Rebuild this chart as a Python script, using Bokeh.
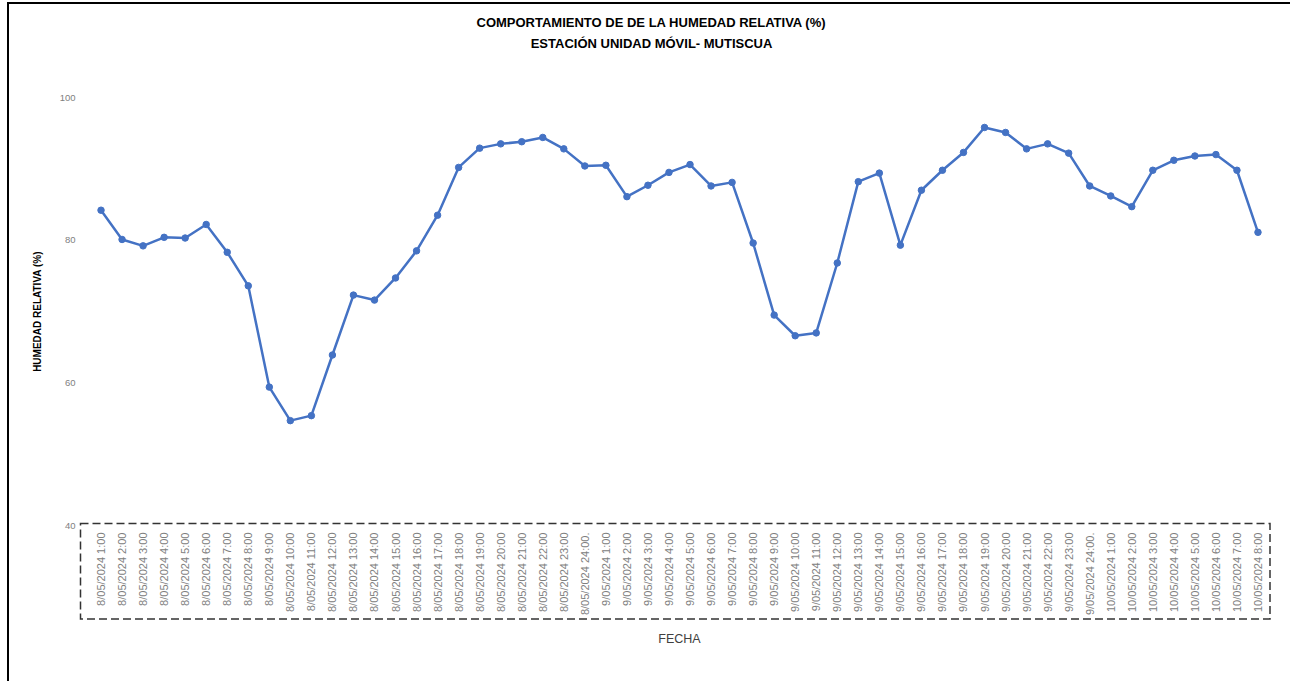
import math
from urllib.parse import quote
from bokeh.plotting import figure
from bokeh.models import (ColumnDataSource, FactorRange, Range1d, FixedTicker,
                          Label)
from bokeh.embed import file_html
from bokeh.resources import INLINE

categories = [
    "8/05/2024 1:00", "8/05/2024 2:00", "8/05/2024 3:00", "8/05/2024 4:00",
    "8/05/2024 5:00", "8/05/2024 6:00", "8/05/2024 7:00", "8/05/2024 8:00",
    "8/05/2024 9:00", "8/05/2024 10:00", "8/05/2024 11:00", "8/05/2024 12:00",
    "8/05/2024 13:00", "8/05/2024 14:00", "8/05/2024 15:00", "8/05/2024 16:00",
    "8/05/2024 17:00", "8/05/2024 18:00", "8/05/2024 19:00", "8/05/2024 20:00",
    "8/05/2024 21:00", "8/05/2024 22:00", "8/05/2024 23:00", "8/05/2024 24:00.",
    "9/05/2024 1:00", "9/05/2024 2:00", "9/05/2024 3:00", "9/05/2024 4:00",
    "9/05/2024 5:00", "9/05/2024 6:00", "9/05/2024 7:00", "9/05/2024 8:00",
    "9/05/2024 9:00", "9/05/2024 10:00", "9/05/2024 11:00", "9/05/2024 12:00",
    "9/05/2024 13:00", "9/05/2024 14:00", "9/05/2024 15:00", "9/05/2024 16:00",
    "9/05/2024 17:00", "9/05/2024 18:00", "9/05/2024 19:00", "9/05/2024 20:00",
    "9/05/2024 21:00", "9/05/2024 22:00", "9/05/2024 23:00", "9/05/2024 24:00.",
    "10/05/2024 1:00", "10/05/2024 2:00", "10/05/2024 3:00", "10/05/2024 4:00",
    "10/05/2024 5:00", "10/05/2024 6:00", "10/05/2024 7:00", "10/05/2024 8:00",
]

humedad = [
    84.2, 80.1, 79.2, 80.4, 80.3, 82.2, 78.3, 73.6,
    59.4, 54.7, 55.4, 63.9, 72.3, 71.6, 74.7, 78.5,
    83.5, 90.2, 92.9, 93.5, 93.8, 94.4, 92.8, 90.4,
    90.5, 86.1, 87.7, 89.5, 90.6, 87.6, 88.1, 79.6,
    69.5, 66.6, 67.0, 76.8, 88.2, 89.4, 79.3, 87.0,
    89.8, 92.3, 95.8, 95.1, 92.8, 93.5, 92.2, 87.6,
    86.2, 84.7, 89.8, 91.2, 91.8, 92.0, 89.8, 81.1,
]

y_ticks = [40, 60, 80, 100]

title_lines = ["COMPORTAMIENTO DE DE LA HUMEDAD RELATIVA (%)",
               "ESTACIÓN UNIDAD MÓVIL- MUTISCUA"]

# ---- layout parameters ----
W, H = 1290, 681
B_LEFT, B_RIGHT, B_TOP, B_BOTTOM = 90, 22, 97, 156

# decorative frame of the chart area (top/left border) and the dashed box
# drawn around the category labels, as a CSS background of the figure
frame_bottom = H - B_BOTTOM
box_x0, box_x1 = B_LEFT - 9.5, W - B_RIGHT + 2
box_y0, box_y1 = frame_bottom - 1.5, frame_bottom + 94
deco_svg = (
    f"<svg xmlns='http://www.w3.org/2000/svg' width='{W}' height='{H}'>"
    f"<path d='M8 {H} V3 H{W}' fill='none' stroke='#000' stroke-width='2'/>"
    f"<rect x='{box_x0}' y='{box_y0}' width='{box_x1 - box_x0}' "
    f"height='{box_y1 - box_y0}' fill='none' stroke='#333' "
    f"stroke-width='1.5' stroke-dasharray='8 4'/></svg>"
)

source = ColumnDataSource(data=dict(cat=categories, hr=humedad))

p = figure(
    width=W, height=H,
    x_range=FactorRange(factors=categories),
    y_range=Range1d(40, 100),
    output_backend="svg", toolbar_location=None,
    min_border_left=B_LEFT, min_border_right=B_RIGHT,
    min_border_top=B_TOP, min_border_bottom=B_BOTTOM,
)
p.styles = {
    "background-color": "white",
    "background-image": f'url("data:image/svg+xml,{quote(deco_svg)}")',
    "background-repeat": "no-repeat",
}
p.outline_line_color = None
p.background_fill_color = None
p.border_fill_color = None
p.xgrid.grid_line_color = None
p.ygrid.grid_line_color = None

p.line(x="cat", y="hr", source=source, line_color="#4472C4", line_width=2.5)
p.scatter(x="cat", y="hr", source=source, size=6.5,
          fill_color="#4472C4", line_color="#4472C4")

# Y axis
p.yaxis.ticker = FixedTicker(ticks=y_ticks)
p.yaxis.axis_line_color = None
p.yaxis.major_tick_line_color = None
p.yaxis.minor_tick_line_color = None
p.yaxis.major_label_text_font = "Liberation Sans"
p.yaxis.major_label_text_font_size = "9.5px"
p.yaxis.major_label_text_color = "#808080"
p.yaxis.major_label_standoff = 9
p.yaxis.axis_label = "HUMEDAD RELATIVA (%)"
p.yaxis.axis_label_text_font = "Liberation Sans"
p.yaxis.axis_label_text_font_style = "bold"
p.yaxis.axis_label_text_font_size = "10px"
p.yaxis.axis_label_text_color = "#000000"
p.yaxis.axis_label_standoff = 14

# X axis
p.xaxis.axis_line_color = None
p.xaxis.major_tick_line_color = None
p.xaxis.major_tick_out = 0
p.xaxis.major_label_orientation = math.pi / 2
p.xaxis.major_label_text_font = "Liberation Sans"
p.xaxis.major_label_text_font_size = "11px"
p.xaxis.major_label_text_color = "#808080"
p.xaxis.major_label_standoff = 7
p.xaxis.axis_label = "FECHA"
p.xaxis.axis_label_text_font = "Liberation Sans"
p.xaxis.axis_label_text_font_style = "normal"
p.xaxis.axis_label_text_font_size = "12.5px"
p.xaxis.axis_label_text_color = "#404040"
p.xaxis.axis_label_standoff = 14

# Title lines (in the top panel so that they are not clipped by the frame)
for txt, yy in zip(title_lines, [110.51, 107.57]):
    p.add_layout(Label(x=26.67, y=yy, text=txt, text_align="center",
                       text_baseline="middle", text_font="Liberation Sans",
                       text_font_style="bold", text_font_size="13px",
                       text_color="#000000"), "above")

open("out.html", "w").write(file_html(p, INLINE))
